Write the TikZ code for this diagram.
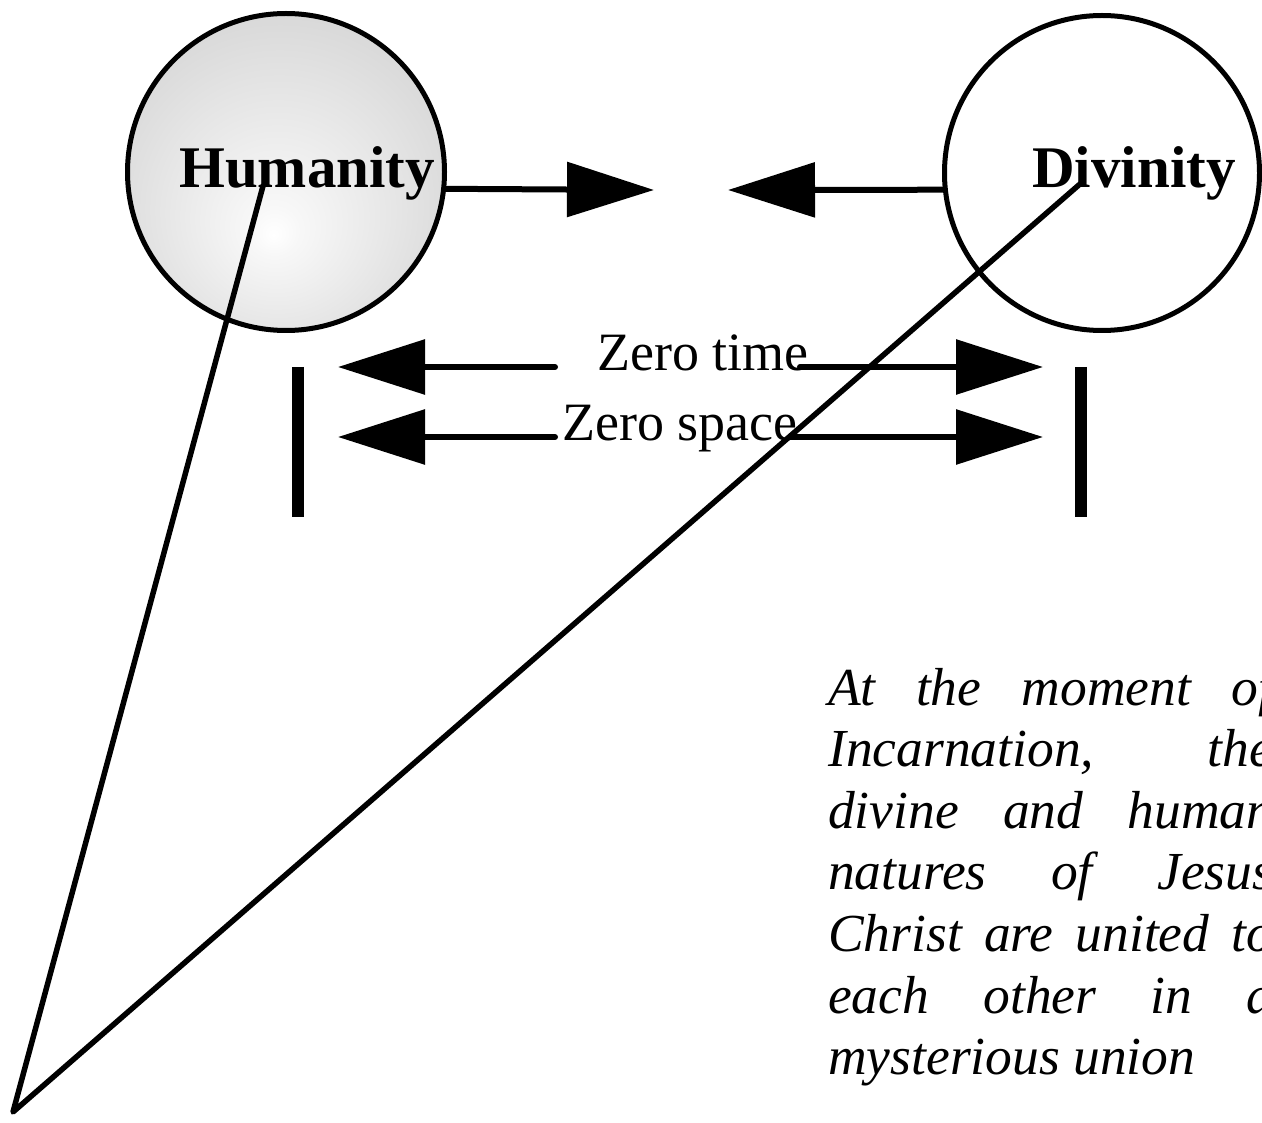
\documentclass[tikz,border=0pt]{standalone}
\usepackage{fontspec}
\setmainfont{Liberation Serif}
\usetikzlibrary{arrows.meta}
\pgfdeclareradialshading{humshade}{\pgfpoint{-2bp}{-10bp}}{color(0bp)=(white); color(4bp)=(white!97!black); color(50bp)=(black!25)}

\begin{document}
\begin{tikzpicture}[x=1pt,y=-1pt,
    nature/.style={circle,draw,line width=5pt,inner sep=0pt},
    title/.style={font=\bfseries\fontsize{59}{70}\selectfont,inner sep=0pt,anchor=base},
    zero/.style={font=\fontsize{54}{64}\selectfont,inner sep=0pt,anchor=base},
    note/.style={font=\itshape\fontsize{53.5}{61.6}\selectfont,inner sep=0pt,anchor=base west},
    push/.style={-{Triangle[length=87pt,width=54pt]},line width=6pt,line cap=round},
    limit/.style={line width=11.5pt},
    leg/.style={line width=5.5pt,line cap=round,line join=round}]
        \useasboundingbox (0,0) rectangle (1262,1123);
        \clip (0,0) rectangle (1262,1123);
        %le due nature
        \node[nature,minimum size=317pt,shade,shading=humshade] (hum) at (286,172) {};
        \node[nature,minimum size=315pt] (div) at (1102,173) {};
        \node[title] (humtxt) at (307,188) {Humanity};
        \node[title] (divtxt) at (1134,188) {Divinity};
        %frecce verso il centro
        \coordinate (hgoal) at (654,190);
        \coordinate (dgoal) at (728,190);
        \draw[push] (hum.-6.5) -- (hgoal);
        \draw[push] (div.186) -- (dgoal);
        %zero time e zero space
        \node[zero] (time) at (703,371) {Zero time};
        \node[zero] (space) at (680,441) {Zero space};
        \coordinate (tl) at (555,367);
        \coordinate (tlend) at (338,367);
        \coordinate (tr) at (800,367);
        \coordinate (trend) at (1043,367);
        \coordinate (sl) at (555,437);
        \coordinate (slend) at (338,437);
        \coordinate (sr) at (790,437);
        \coordinate (srend) at (1043,437);
        \draw[push] (tl) -- (tlend);
        \draw[push] (tr) -- (trend);
        \draw[push] (sl) -- (slend);
        \draw[push] (sr) -- (srend);
        %barre
        \coordinate (lbtop) at (298,367);
        \coordinate (lbbot) at (298,517);
        \coordinate (rbtop) at (1081,367);
        \coordinate (rbbot) at (1081,517);
        \draw[limit] (lbtop) -- (lbbot);
        \draw[limit] (rbtop) -- (rbbot);
        %testo
        \foreach \words [count=\i from 0] in {At the moment of, {Incarnation, the}, divine and human, natures of Jesus, Christ are united to, each other in a}
            \node[note] (line\i) at (828,705+61.6*\i) {\makebox[445pt][s]{\words}};
        \node[note] (line6) at (828,1074.6) {mysterious union};
        %linee verso il vertice
        \coordinate (humpt) at (263,186);
        \coordinate (apex) at (13,1112);
        \coordinate (divpt) at (1080,184);
        \draw[leg] (humpt) -- (apex) -- (divpt);
\end{tikzpicture}
\end{document}
